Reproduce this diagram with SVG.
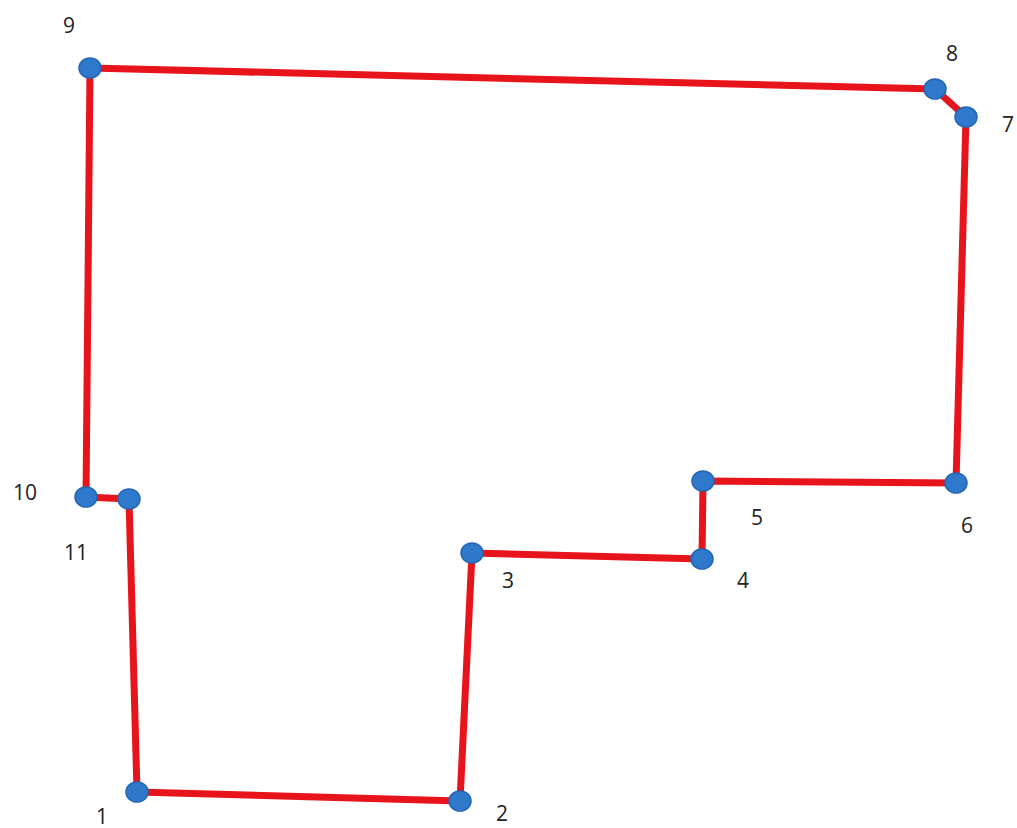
<svg xmlns="http://www.w3.org/2000/svg" width="1017" height="828" viewBox="0 0 1017 828">
<style>
.edge{stroke:#e8141c;stroke-width:7;fill:none;stroke-linejoin:round}
.dot{fill:#2f79cc;stroke:#2466b3;stroke-width:1.5}
.lbl{font-family:"Open Sans","Liberation Sans",Arial,sans-serif;font-size:21px;fill:#222;text-anchor:middle}
</style>
<rect width="1017" height="828" fill="#fff"/>
<g id="connectors">
<polyline class="edge" points="137,792 460,801 472,553 702,559 703,481 956,483 966,117 935,89 90,68 86,497 129,499 137,792"/>
</g>
<g id="n1"><ellipse class="dot" cx="137" cy="792" rx="11" ry="10"/><text class="lbl" x="102" y="824">1</text></g>
<g id="n2"><ellipse class="dot" cx="460" cy="801" rx="11" ry="10"/><text class="lbl" x="502" y="821">2</text></g>
<g id="n3"><ellipse class="dot" cx="472" cy="553" rx="11" ry="10"/><text class="lbl" x="508" y="588">3</text></g>
<g id="n4"><ellipse class="dot" cx="702" cy="559" rx="11" ry="10"/><text class="lbl" x="743" y="588">4</text></g>
<g id="n5"><ellipse class="dot" cx="703" cy="481" rx="11" ry="10"/><text class="lbl" x="757" y="525">5</text></g>
<g id="n6"><ellipse class="dot" cx="956" cy="483" rx="11" ry="10"/><text class="lbl" x="967" y="533">6</text></g>
<g id="n7"><ellipse class="dot" cx="966" cy="117" rx="11" ry="10"/><text class="lbl" x="1008" y="132">7</text></g>
<g id="n8"><ellipse class="dot" cx="935" cy="89" rx="11" ry="10"/><text class="lbl" x="952" y="61">8</text></g>
<g id="n9"><ellipse class="dot" cx="90" cy="68" rx="11" ry="10"/><text class="lbl" x="69" y="33">9</text></g>
<g id="n10"><ellipse class="dot" cx="86" cy="497" rx="11" ry="10"/><text class="lbl" x="25" y="500">10</text></g>
<g id="n11"><ellipse class="dot" cx="129" cy="499" rx="11" ry="10"/><text class="lbl" x="76" y="560">11</text></g>
</svg>
